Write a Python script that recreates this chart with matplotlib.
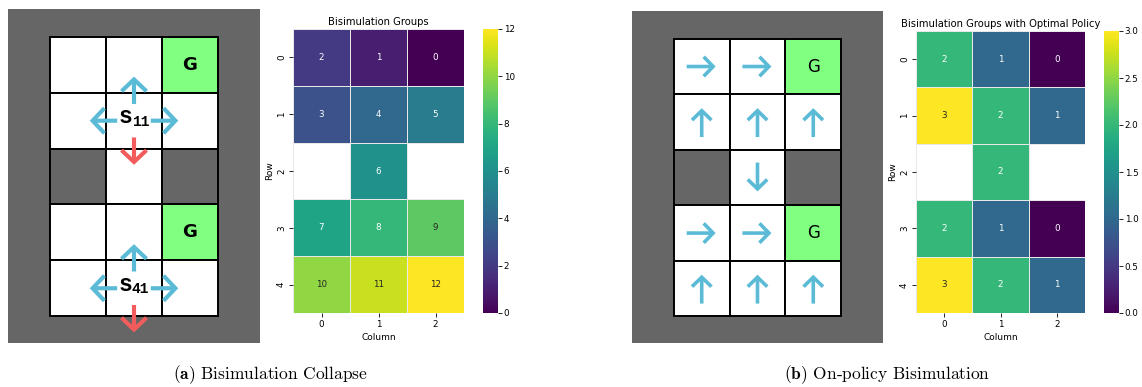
import numpy as np
import matplotlib
matplotlib.use("Agg")
import matplotlib.pyplot as plt
from matplotlib.patches import Rectangle, FancyArrowPatch
import seaborn as sns

# grid layout: 0 = free, 1 = wall, 2 = goal
layout = [
    [0, 0, 2],
    [0, 0, 0],
    [1, 0, 1],
    [0, 0, 2],
    [0, 0, 0],
]

# bisimulation group ids per cell (nan = wall)
groups_collapse = [
    [2, 1, 0],
    [3, 4, 5],
    [np.nan, 6, np.nan],
    [7, 8, 9],
    [10, 11, 12],
]
groups_policy = [
    [2, 1, 0],
    [3, 2, 1],
    [np.nan, 2, np.nan],
    [2, 1, 0],
    [3, 2, 1],
]

# optimal policy per cell: R, U, D, or None
policy = [
    ["R", "R", None],
    ["U", "U", "U"],
    [None, "D", None],
    ["R", "R", None],
    ["U", "U", "U"],
]

# highlighted states with all four actions drawn; down leads away from goal
states = [(1, 1, "11"), (4, 1, "41")]

BG = "#666666"
BLUE = "#5bbbd6"
RED = "#f35c5c"
GOAL = "#80ff80"
MONO = ["Liberation Mono", "DejaVu Sans Mono"]

DIRS = {"U": (0, -1), "D": (0, 1), "L": (-1, 0), "R": (1, 0)}


def arrow(ax, x0, y0, x1, y1, color, lw=3.0, head=(0.85, 0.9)):
    hl, hw = head
    ax.add_patch(FancyArrowPatch(
        (x0, y0), (x1, y1),
        arrowstyle=f"->,head_length={hl},head_width={hw}",
        mutation_scale=10, color=color, lw=lw,
        shrinkA=0, shrinkB=0,
        capstyle="butt", joinstyle="miter", zorder=5,
    ))


def draw_grid(ax, goal_size, goal_weight):
    ax.set_facecolor(BG)
    for r, row in enumerate(layout):
        for c, v in enumerate(row):
            fc = {0: "white", 1: BG, 2: GOAL}[v]
            ax.add_patch(Rectangle((c, r), 1, 1, facecolor=fc,
                                   edgecolor="black", lw=1.4, zorder=2))
            if v == 2:
                ax.text(c + 0.5, r + 0.5, "G", ha="center", va="center",
                        fontsize=goal_size, fontweight=goal_weight, zorder=6)
    ax.set_xlim(-0.75, 3.75)
    ax.set_ylim(5.48, -0.5)
    ax.set_xticks([])
    ax.set_yticks([])
    for s in ax.spines.values():
        s.set_visible(False)


def draw_heatmap(ax, cax, data, title, ticks):
    sns.heatmap(np.array(data, dtype=float), ax=ax, cbar_ax=cax,
                cmap="viridis", annot=True, fmt=".0f",
                annot_kws={"fontsize": 6.3},
                linewidths=0.6, linecolor="#e8e8e8")
    ax.set_title(title, fontsize=7.2, pad=3)
    ax.set_xlabel("Column", fontsize=6.5, labelpad=3)
    ax.set_ylabel("Row", fontsize=6.5, labelpad=2)
    ax.tick_params(labelsize=6.3, length=3, width=0.6, pad=2)
    cax.set_yticks(ticks)
    cax.tick_params(labelsize=6.3, length=3, width=0.6, pad=1)


fig = plt.figure(figsize=(11.42, 3.87), dpi=100)

# (a) bisimulation collapse
ax1 = fig.add_axes([8 / 1142, 1 - 343 / 387, 252 / 1142, 334 / 387])
draw_grid(ax1, 13, "bold")
for r, c, sub in states:
    cx, cy = c + 0.5, r + 0.5
    for d, (dx, dy) in DIRS.items():
        col = RED if d == "D" else BLUE
        arrow(ax1, cx + 0.3 * dx, cy + 0.3 * dy,
              cx + 0.79 * dx, cy + 0.79 * dy, col)
    ax1.annotate("s", (cx, cy), xytext=(-6, 3), textcoords="offset points",
                 ha="center", va="center", fontsize=16.5, fontweight="bold",
                 family=MONO, zorder=7)
    ax1.annotate(sub, (cx, cy), xytext=(4.8, -0.6), textcoords="offset points",
                 ha="center", va="center", fontsize=10.5, fontweight="bold",
                 family=MONO, zorder=7)

hm1 = fig.add_axes([293 / 1142, 1 - 313 / 387, 171 / 1142, 284 / 387])
cb1 = fig.add_axes([483 / 1142, 1 - 313 / 387, 15 / 1142, 284 / 387])
draw_heatmap(hm1, cb1, groups_collapse, "Bisimulation Groups",
             np.arange(0, 13, 2))

# (b) on-policy bisimulation
ax2 = fig.add_axes([632 / 1142, 1 - 343 / 387, 251 / 1142, 332 / 387])
draw_grid(ax2, 12, "normal")
for r, row in enumerate(policy):
    for c, a in enumerate(row):
        if a is None:
            continue
        dx, dy = DIRS[a]
        cx, cy = c + 0.5, r + 0.5
        arrow(ax2, cx - 0.27 * dx, cy - 0.27 * dy,
              cx + 0.25 * dx, cy + 0.25 * dy, BLUE, lw=2.6, head=(0.68, 0.7))

hm2 = fig.add_axes([916 / 1142, 1 - 313 / 387, 169 / 1142, 282 / 387])
cb2 = fig.add_axes([1104 / 1142, 1 - 313 / 387, 15 / 1142, 282 / 387])
draw_heatmap(hm2, cb2, groups_policy, "Bisimulation Groups with Optimal Policy",
             np.arange(0, 3.01, 0.5))

# captions
plt.rcParams["mathtext.fontset"] = "cm"
fig.text(270 / 1142, 1 - 375 / 387, r"$\mathbf{(a)}$ Bisimulation Collapse",
         ha="center", va="center", fontsize=12.5, family="cmr10")
fig.text(887 / 1142, 1 - 375 / 387, r"$\mathbf{(b)}$ On-policy Bisimulation",
         ha="center", va="center", fontsize=12.5, family="cmr10")

fig.savefig("out.png", dpi=100)
